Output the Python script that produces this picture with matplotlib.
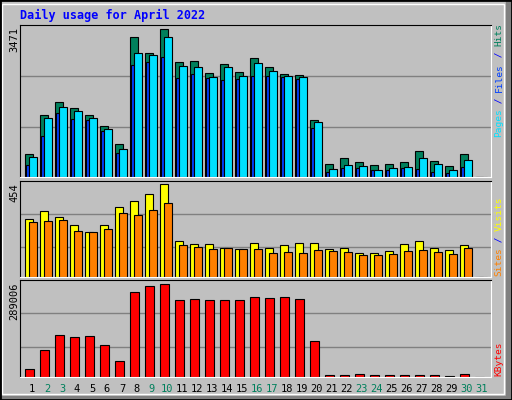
import numpy as np
import matplotlib
matplotlib.use("Agg")
import matplotlib.pyplot as plt
from matplotlib.patches import Rectangle

days = list(range(1, 32))
weekend = [2, 3, 9, 10, 16, 17, 23, 24, 30, 31]

hits = [539, 1454, 1759, 1618, 1454, 1196, 774, 3283, 2908, 3471, 2697, 2720, 2439, 2650, 2462,
        2791, 2580, 2415, 2392, 1337, 305, 446, 352, 281, 305, 352, 610, 375, 258, 539, 0]
files = [291, 950, 1492, 1351, 1327, 1068, 573, 2623, 2694, 2811, 2317, 2411, 2317, 2270, 2293,
         2364, 2364, 2340, 2293, 1139, 126, 220, 220, 173, 173, 220, 196, 126, 102, 243, 0]
pages = [479, 1374, 1633, 1539, 1374, 1115, 667, 2906, 2858, 3283, 2599, 2576, 2340, 2576, 2364,
         2670, 2482, 2364, 2340, 1280, 196, 291, 267, 173, 220, 243, 455, 314, 173, 408, 0]
visits = [286, 321, 296, 257, 222, 257, 341, 370, 405, 454, 178, 163, 163, 143, 138,
          168, 143, 158, 168, 168, 138, 143, 118, 118, 128, 163, 178, 143, 133, 158, 0]
sites = [271, 276, 281, 227, 222, 237, 316, 306, 326, 365, 158, 148, 138, 143, 138,
         138, 118, 123, 118, 133, 128, 123, 109, 109, 114, 128, 133, 123, 114, 143, 0]
kbytes = [24260, 84384, 130795, 124466, 127631, 99151, 48521, 263700, 282686, 289006,
          241549, 244714, 241549, 241549, 241549, 251042, 247878, 251042, 244714, 111809,
          7384, 7384, 10548, 7384, 7384, 7384, 7384, 7384, 4219, 10548, 0]

W, H = 512, 400
BG = "#C0C0C0"
fig = plt.figure(figsize=(W / 100, H / 100), dpi=100, facecolor=BG)

# outer frame with bevel
fig.patches.append(Rectangle((0, 0), 1, 4 / H, transform=fig.transFigure, color="#808080"))
fig.patches.append(Rectangle((1 - 6 / W, 0), 6 / W, 1, transform=fig.transFigure, color="#808080"))
fig.patches.append(Rectangle((2 / W, 6 / H), (W - 10) / W, (H - 10) / H, transform=fig.transFigure,
                             fill=False, edgecolor="white", lw=1))
fig.patches.append(Rectangle((0, 0), 1, 1, transform=fig.transFigure, fill=False,
                             edgecolor="black", lw=2))

MONO = "DejaVu Sans Mono"
fig.text(20 / W, 1 - 15 / H, "Daily usage for April 2022", color="#0000FF", family=MONO,
         weight="bold", fontsize=8.5, va="center")

x = np.array(days, dtype=float)


def panel(y0, y1):
    ax = fig.add_axes([20 / W, 1 - y1 / H, 471 / W, (y1 - y0) / H])
    ax.set_facecolor(BG)
    ax.set_xlim(0.267, 31.67)
    for s in ["left", "top"]:
        ax.spines[s].set_color("black")
    for s in ["right", "bottom"]:
        ax.spines[s].set_color("white")
    ax.set_xticks([])
    ax.set_yticks([])
    return ax


def vlabel(xp, ybot, parts, size=6.8):
    cw = 0.602 * size * 100 / 72
    y = ybot
    for txt, col in parts:
        fig.text(xp / W, 1 - y / H, txt, color=col, rotation=90, family=MONO, fontsize=size,
                 ha="center", va="bottom")
        y -= len(txt) * cw


edge = dict(edgecolor="black", linewidth=0.8)

# top panel: hits / files / pages
ax1 = panel(25, 177)
ax1.set_ylim(0, 3471 * 152 / 148)
for f in (0.33, 0.665):
    ax1.axhline(f * 3471 * 152 / 148, color="#808080", lw=1, zorder=0)
ax1.bar(x - 0.4, hits, width=0.53, align="edge", color="#00805C", **edge)
ax1.bar(x - 0.33, files, width=0.2, align="edge", color="#0040FF", **edge)
ax1.bar(x - 0.133, pages, width=0.53, align="edge", color="#00E0FF", **edge)
fig.text(14 / W, 1 - 27 / H, "3471", rotation=90, family=MONO, fontsize=7.5, ha="center", va="top")
vlabel(499, 137, [("Pages", "#00E0FF"), (" / ", "#0000FF"), ("Files", "#0040FF"),
                  (" / ", "#0000FF"), ("Hits", "#00805C")])

# middle panel: visits / sites
ax2 = panel(181, 277)
top2 = 454 * 95 / 91.7
ax2.set_ylim(0, top2)
for f in (0.31, 0.66):
    ax2.axhline(f * top2, color="#808080", lw=1, zorder=0)
ax2.bar(x - 0.4, visits, width=0.53, align="edge", color="#FFFF00", **edge)
ax2.bar(x - 0.133, sites, width=0.53, align="edge", color="#FF8000", **edge)
fig.text(14 / W, 1 - 183 / H, "454", rotation=90, family=MONO, fontsize=7.5, ha="center", va="top")
vlabel(499, 276, [("Sites", "#FF8000"), (" / ", "#0000FF"), ("Visits", "#FFFF00")])

# bottom panel: kbytes
ax3 = panel(280, 377)
top3 = 289006 * 96 / 91.7
ax3.set_ylim(0, top3)
for f in (0.31, 0.655):
    ax3.axhline(f * top3, color="#808080", lw=1, zorder=0)
ax3.bar(x - 0.4, kbytes, width=0.6, align="edge", color="#FF0000", **edge)
fig.text(14 / W, 1 - 282 / H, "289006", rotation=90, family=MONO, fontsize=7.5, ha="center", va="top")
vlabel(499, 376, [("KBytes", "#FF0000")])

for d in days:
    col = "#00805C" if d in weekend else "black"
    xp = 20 + (d - 0.267) / (31.67 - 0.267) * 471 + 1
    fig.text(xp / W, 1 - 389 / H, str(d), color=col, family=MONO, fontsize=7.5,
             ha="center", va="center")

fig.savefig("out.png", dpi=100, facecolor=BG)
